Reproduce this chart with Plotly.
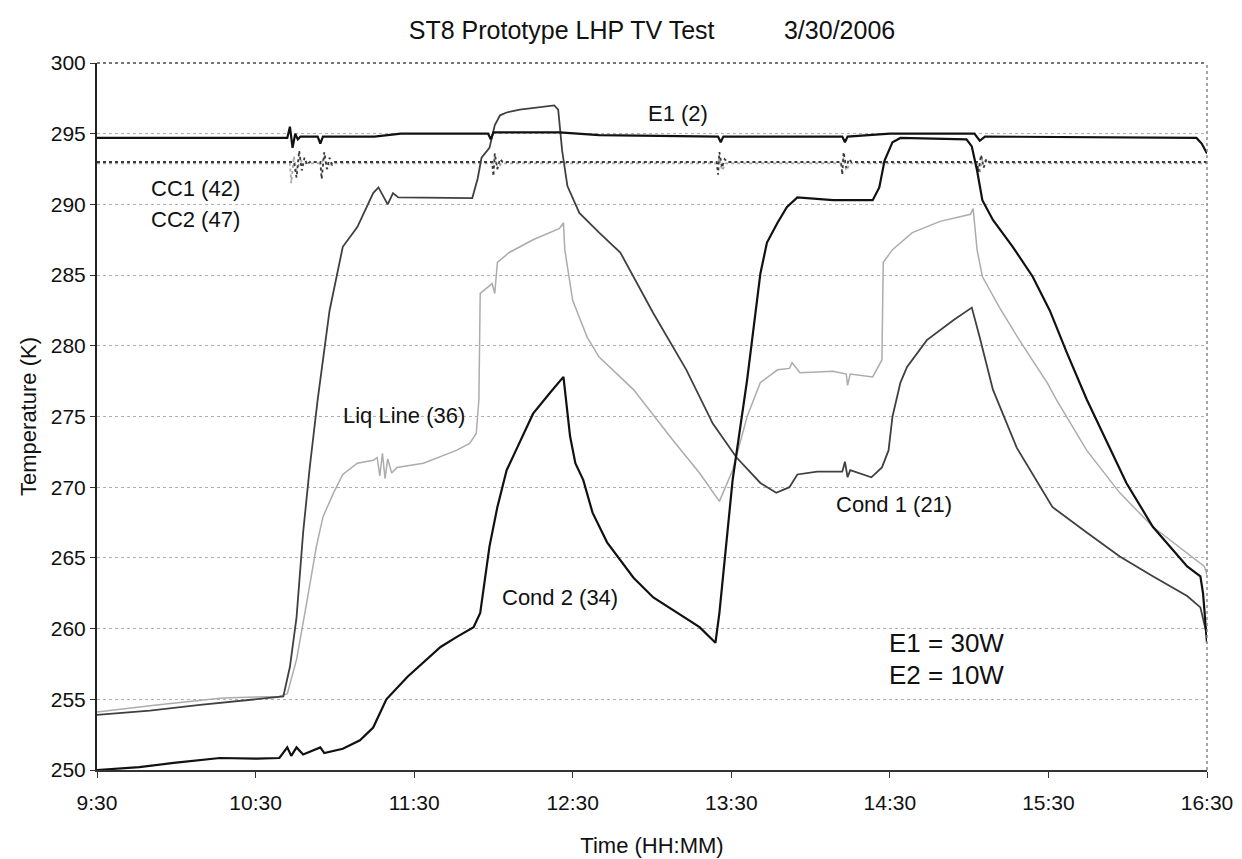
import plotly.graph_objects as go
from datetime import datetime

# ---------------- data ----------------
e1_time = ["9:30", "10:42", "10:43", "10:44", "10:45", "10:46", "10:47", "10:53:30", "10:54:30", "10:55:30",
           "11:15", "11:25", "11:58", "11:59", "12:00", "12:25", "12:40", "13:25", "13:26", "13:27",
           "14:12", "14:13", "14:14", "14:30", "15:02", "15:04", "15:06", "16:26", "16:28", "16:30"]
e1_temp = [294.7, 294.7, 295.5, 294.0, 295.0, 294.6, 294.8, 294.8, 294.3, 294.8,
           294.8, 295.0, 295.0, 294.6, 295.1, 295.1, 294.9, 294.8, 294.4, 294.8,
           294.8, 294.4, 294.8, 295.0, 295.0, 294.5, 294.8, 294.7, 294.3, 293.6]

cc1_time = ["9:30", "10:44:30", "10:45:30", "10:46:30", "10:47:30", "10:48:30", "10:49:30", "10:50:30",
            "10:54:30", "10:55", "10:56", "10:57", "10:58", "10:59", "11:00",
            "11:59:30", "12:00", "12:00:30", "12:01:30", "12:02:30", "12:03:30",
            "13:24:30", "13:25", "13:25:30", "13:26:30", "13:27:30", "13:28:30",
            "14:11:30", "14:12", "14:12:30", "14:13:30", "14:14:30", "14:15:30",
            "15:03", "15:03:30", "15:04:30", "15:05:30", "15:06:30", "15:07:30", "16:30"]
cc1_temp = [293.0, 293.0, 291.9, 293.8, 292.4, 293.3, 292.8, 293.0,
            293.0, 291.8, 293.7, 292.5, 293.3, 292.8, 293.0,
            293.0, 292.0, 293.6, 292.5, 293.2, 293.0,
            293.0, 292.1, 293.7, 292.6, 293.2, 293.0,
            293.0, 292.1, 293.7, 292.6, 293.2, 293.0,
            293.0, 292.3, 293.5, 292.6, 293.2, 293.0, 293.0]

cc2_time = ["9:30", "10:43", "10:43:30", "10:44:30", "10:45:30", "10:47", "10:48:30",
            "10:55", "10:56", "10:57", "10:58:30",
            "12:00", "12:00:30", "12:01:30", "12:03",
            "13:25", "13:25:30", "13:26:30", "13:28",
            "14:12", "14:12:30", "14:13:30", "14:15",
            "15:03", "15:04", "15:05", "15:07", "16:30"]
cc2_temp = [292.9, 292.9, 291.5, 293.4, 292.4, 293.1, 292.9,
            292.9, 293.4, 292.5, 292.9,
            292.9, 293.3, 292.5, 292.9,
            292.9, 293.3, 292.4, 292.9,
            292.9, 293.3, 292.4, 292.9,
            292.9, 292.2, 293.3, 292.9, 292.9]

cond1_time = ["9:30", "9:50", "10:09", "10:28", "10:40:30", "10:43", "10:45:30", "10:48", "10:50:30", "10:53:30",
              "10:58", "11:03", "11:08:30", "11:14:30", "11:16:30", "11:20", "11:22", "11:24", "11:52", "11:54",
              "11:55:30", "11:58:30", "12:00:30", "12:02:30", "12:05", "12:10", "12:15", "12:20", "12:23", "12:24:30",
              "12:26", "12:28", "12:32:30", "12:40", "12:48", "13:00:30", "13:13", "13:23", "13:32", "13:41",
              "13:47", "13:52", "13:55", "14:02:30", "14:12", "14:13", "14:14", "14:15", "14:23", "14:27",
              "14:29:30", "14:31", "14:34", "14:36:30", "14:44", "14:54", "15:01", "15:04", "15:09", "15:18",
              "15:31:30", "15:44:30", "15:57", "16:09:30", "16:22:30", "16:27:30", "16:30"]
cond1_temp = [253.9, 254.2, 254.6, 254.95, 255.2, 257.3, 260.8, 266.8, 271.4, 276.2,
              282.5, 287.0, 288.4, 290.8, 291.2, 290.0, 290.8, 290.5, 290.45, 291.8,
              293.3, 294.0, 295.6, 296.3, 296.5, 296.7, 296.8, 296.9, 297.0, 296.7,
              293.8, 291.3, 289.4, 288.0, 286.6, 282.3, 278.3, 274.5, 272.1, 270.3,
              269.6, 270.0, 270.9, 271.1, 271.1, 271.8, 270.7, 271.2, 270.7, 271.4,
              272.6, 275.0, 277.4, 278.5, 280.4, 281.8, 282.7, 280.6, 276.9, 272.8,
              268.6, 266.8, 265.1, 263.7, 262.3, 261.5, 259.5]

cond2_time = ["9:30", "9:38:30", "9:46", "9:59", "10:16:30", "10:30:30", "10:39", "10:42", "10:43:30", "10:45:30",
              "10:48", "10:54:30", "10:56", "11:03", "11:09:30", "11:14:30", "11:17", "11:19:30", "11:27:30", "11:33:30",
              "11:40", "11:46", "11:52:30", "11:55", "11:58:30", "12:01:30", "12:05", "12:09", "12:15", "12:21:30",
              "12:26:30", "12:29", "12:31", "12:34", "12:37:30", "12:43", "12:53", "13:00:30", "13:09:30", "13:18",
              "13:24", "13:25:30", "13:30:30", "13:36", "13:41", "13:43:30", "13:47:30", "13:51", "13:55", "14:08:30",
              "14:23:30", "14:26", "14:28", "14:31", "14:34", "14:59", "15:01", "15:03", "15:05", "15:09",
              "15:16:30", "15:24", "15:30:30", "15:37", "15:44:30", "15:50:30", "15:59:30", "16:09:30", "16:22:30", "16:27:30",
              "16:28:30", "16:30"]
cond2_temp = [250.0, 250.1, 250.2, 250.5, 250.85, 250.8, 250.85, 251.6, 251.0, 251.6,
              251.1, 251.6, 251.2, 251.5, 252.1, 253.0, 254.0, 255.0, 256.6, 257.6,
              258.7, 259.4, 260.1, 261.1, 265.8, 268.6, 271.2, 272.8, 275.2, 276.7,
              277.8, 273.6, 271.7, 270.5, 268.2, 266.1, 263.6, 262.2, 261.1, 260.1,
              259.0, 261.1, 270.5, 277.6, 285.1, 287.3, 288.7, 289.8, 290.5, 290.3,
              290.3, 291.2, 293.1, 294.4, 294.7, 294.6, 294.1, 292.4, 290.3, 288.9,
              287.0, 284.9, 282.5, 279.5, 276.2, 273.8, 270.3, 267.2, 264.4, 263.7,
              262.5, 259.0]

liq_time = ["9:30", "9:52:30", "10:17:30", "10:39", "10:42", "10:45:30", "10:49:30", "10:53", "10:55:30", "10:59:30",
            "11:03", "11:08:30", "11:14:30", "11:16", "11:17", "11:18", "11:19", "11:20", "11:21:30", "11:23:30",
            "11:33:30", "11:46", "11:51", "11:53:30", "11:54:30", "11:55", "11:59:30", "12:00:30", "12:01:30", "12:06",
            "12:15", "12:25", "12:26:30", "12:27", "12:30", "12:35:30", "12:40", "12:53", "13:08", "13:18",
            "13:25:30", "13:30:30", "13:36", "13:41", "13:47:30", "13:52", "13:53", "13:56", "14:08:30", "14:13:30",
            "14:14", "14:15", "14:23:30", "14:27", "14:27:30", "14:31", "14:38:30", "14:49", "15:00:30", "15:01:30",
            "15:03", "15:05", "15:11:30", "15:19", "15:29:30", "15:33", "15:44:30", "15:57", "16:09:30", "16:22:30",
            "16:29", "16:30"]
liq_temp = [254.1, 254.6, 255.1, 255.2, 255.4, 257.8, 262.0, 265.8, 267.9, 269.6,
            270.9, 271.7, 271.9, 272.1, 270.8, 272.4, 270.6, 272.0, 271.0, 271.4,
            271.7, 272.6, 273.1, 273.8, 276.2, 283.7, 284.4, 283.7, 285.9, 286.6,
            287.5, 288.3, 288.7, 286.8, 283.2, 280.6, 279.2, 276.9, 273.3, 271.0,
            269.0, 271.2, 275.0, 277.4, 278.3, 278.4, 278.8, 278.1, 278.2, 278.0,
            277.2, 278.0, 277.8, 279.0, 285.9, 286.8, 288.0, 288.8, 289.3, 289.7,
            286.8, 284.9, 282.7, 280.4, 277.4, 276.2, 272.6, 269.6, 267.2, 265.3,
            264.4, 263.8]

x_ticks = ["9:30", "10:30", "11:30", "12:30", "13:30", "14:30", "15:30", "16:30"]
y_ticks = [250, 255, 260, 265, 270, 275, 280, 285, 290, 295, 300]


def tt(s):
    p = [int(v) for v in s.split(":")]
    while len(p) < 3:
        p.append(0)
    return datetime(2006, 3, 30, p[0], p[1], p[2])


def conv(lst):
    return [tt(s) for s in lst]


FONT = "Liberation Sans, Arial, sans-serif"
INK = "#111111"

fig = go.Figure()
fig.add_trace(go.Scatter(x=conv(cc2_time), y=cc2_temp, mode="lines", name="CC2 (47)",
                         line=dict(color="#a8a8a8", width=1.8, dash="dot")))
fig.add_trace(go.Scatter(x=conv(cc1_time), y=cc1_temp, mode="lines", name="CC1 (42)",
                         line=dict(color="#3a3a3a", width=1.8, dash="dot")))
fig.add_trace(go.Scatter(x=conv(liq_time), y=liq_temp, mode="lines", name="Liq Line (36)",
                         line=dict(color="#acacac", width=1.5)))
fig.add_trace(go.Scatter(x=conv(cond1_time), y=cond1_temp, mode="lines", name="Cond 1 (21)",
                         line=dict(color="#404040", width=1.8)))
fig.add_trace(go.Scatter(x=conv(cond2_time), y=cond2_temp, mode="lines", name="Cond 2 (34)",
                         line=dict(color="#111111", width=2.2)))
fig.add_trace(go.Scatter(x=conv(e1_time), y=e1_temp, mode="lines", name="E1 (2)",
                         line=dict(color="#111111", width=2.2)))

ann_font = dict(family=FONT, size=22, color=INK)
annotations = [
    dict(x=tt("13:09:48"), y=296.46, text="E1 (2)"),
    dict(x=tt("10:07:18"), y=291.16, text="CC1 (42)"),
    dict(x=tt("10:07:18"), y=288.9, text="CC2 (47)"),
    dict(x=tt("11:26:00"), y=275.1, text="Liq Line (36)"),
    dict(x=tt("12:25:12"), y=262.2, text="Cond 2 (34)"),
    dict(x=tt("14:31:36"), y=268.8, text="Cond 1 (21)"),
]
for a in annotations:
    fig.add_annotation(x=a["x"], y=a["y"], text=a["text"], showarrow=False, font=ann_font)
fig.add_annotation(x=tt("14:28:54"), y=258.98, text="E1 = 30W", showarrow=False, xanchor="left",
                   font=dict(family=FONT, size=26, color=INK))
fig.add_annotation(x=tt("14:28:54"), y=256.72, text="E2 = 10W", showarrow=False, xanchor="left",
                   font=dict(family=FONT, size=26, color=INK))

# border: top and right dotted
fig.add_shape(type="line", xref="paper", yref="paper", x0=0, x1=1, y0=1, y1=1,
              line=dict(color="#777777", width=2, dash="dot"))
fig.add_shape(type="line", xref="paper", yref="paper", x0=1, x1=1, y0=0, y1=1,
              line=dict(color="#888888", width=1.5, dash="dot"))

fig.update_layout(
    width=1242, height=859,
    margin=dict(l=89, r=43, t=55, b=97),
    paper_bgcolor="white", plot_bgcolor="white",
    showlegend=False,
    font=dict(family=FONT, size=21, color=INK),
    title=dict(text="ST8 Prototype LHP TV Test          3/30/2006", x=0.5, xref="paper", xanchor="center",
               y=1 - 22 / 859, yanchor="middle", font=dict(family=FONT, size=25, color=INK)),
    xaxis=dict(range=[tt("9:30"), tt("16:30")], tickvals=conv(x_ticks), ticktext=x_ticks,
               showgrid=False, zeroline=False, showline=True, linecolor="#333333", linewidth=2,
               ticks="outside", ticklen=6, tickcolor="#333333", ticklabelstandoff=7,
               title=dict(text="Time (HH:MM)", standoff=24, font=dict(size=22)), tickfont=dict(size=21)),
    yaxis=dict(range=[250, 300], tickvals=y_ticks, showgrid=True, gridcolor="#b0b0b0", griddash="dot",
               gridwidth=1, zeroline=False, showline=True, linecolor="#222222", linewidth=2,
               ticks="outside", ticklen=5, tickcolor="#333333",
               title=dict(text="Temperature (K)", standoff=8, font=dict(size=22)), tickfont=dict(size=21)),
)

fig.write_html("out.html")
